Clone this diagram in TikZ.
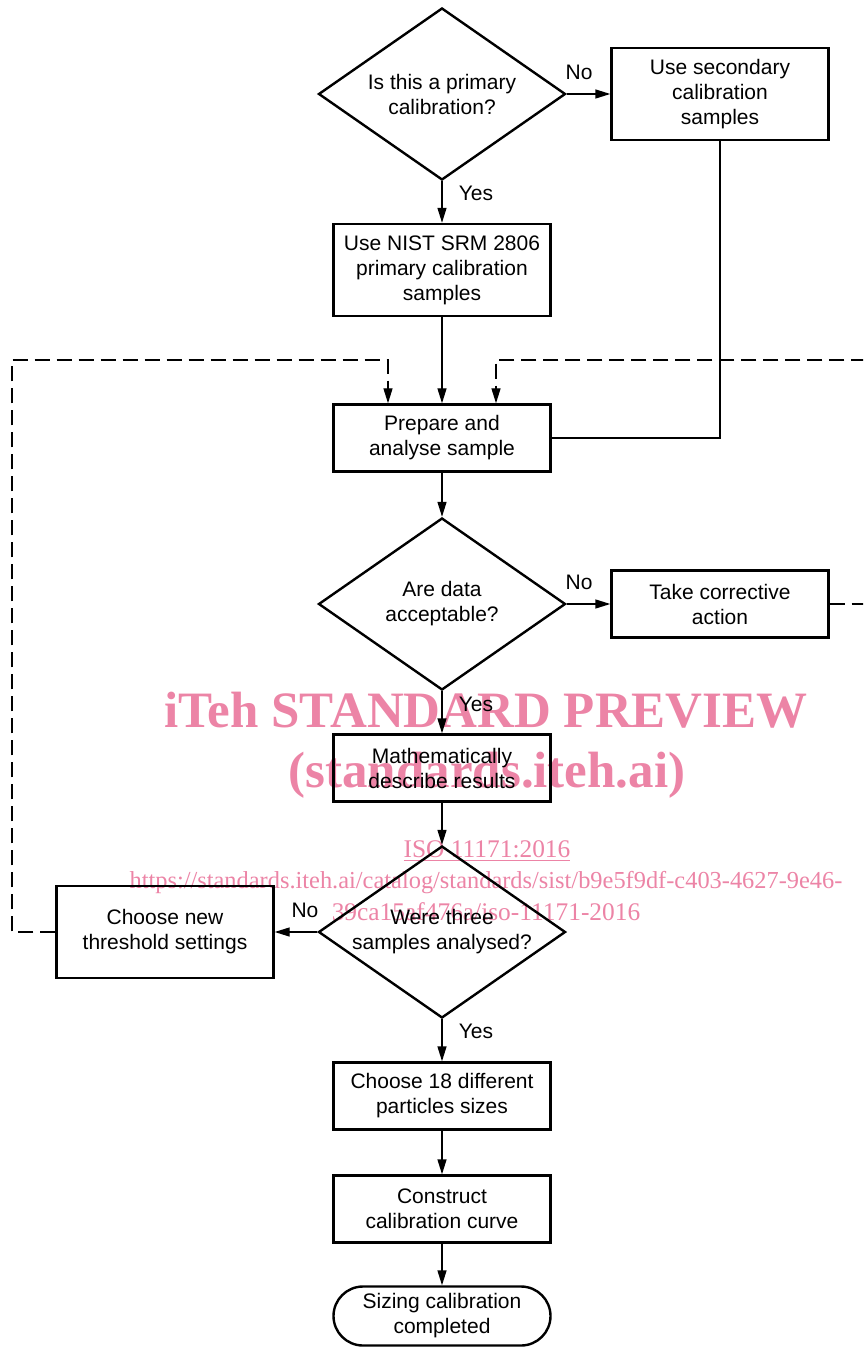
\documentclass[tikz,border=0pt]{standalone}
\usepackage{fontspec}
\setmainfont{Liberation Sans}
\newfontfamily\markfont{Liberation Serif}
\usetikzlibrary{shapes.geometric,shapes.misc,arrows.meta}
\definecolor{markpink}{RGB}{236,132,166}
\tikzset{
    flow-text/.style = {font=\fontsize{10.5}{12.5}\selectfont, align=center},
    flow-box/.style = {flow-text, draw, line width=1.2pt, rectangle, minimum width=108.5pt, inner sep=0pt},
    flow-box-tall/.style = {flow-box, minimum height=46pt},
    flow-box-low/.style = {flow-box, minimum height=33.5pt},
    flow-choice/.style = {flow-text, draw, line width=1.2pt, diamond, aspect=1.436, minimum width=123.5pt, minimum height=86pt, inner sep=0pt},
    flow-end/.style = {flow-text, draw, line width=1.2pt, rounded rectangle, minimum width=108.5pt, minimum height=29.5pt, inner sep=0pt},
    flow-line/.style = {line width=0.7pt},
    flow-arrow/.style = {flow-line, -{Triangle[length=7.5pt,width=4.5pt]}},
    flow-loop/.style = {flow-arrow, dash pattern=on 7.5pt off 3.5pt},
    flow-label/.style = {flow-text, inner sep=0pt},
    mark-big/.style = {text=markpink, anchor=base, inner sep=0pt, font=\markfont\bfseries\fontsize{25.5}{30}\selectfont},
    mark-small/.style = {text=markpink, anchor=base, inner sep=0pt, font=\markfont\fontsize{12.7}{15}\selectfont},
    mark-link/.style = {mark-small, font=\markfont\fontsize{12.2}{15}\selectfont},
}

\begin{document}
\begin{tikzpicture}[x=0.5pt, y=-0.5pt]
\useasboundingbox (0,0) rectangle (863,1347);
\clip (0,0) rectangle (863,1347);

% watermark, under the chart
\node[mark-big] (mark-1) at (486,727) {iTeh STANDARD PREVIEW};
\node[mark-big] (mark-2) at (487,787) {(standards.iteh.ai)};
\node[mark-small] (mark-3) at (487,857) {\underline{ISO 11171:2016}};
\node[mark-link] (mark-4) at (486,888) {https://standards.iteh.ai/catalog/standards/sist/b9e5f9df-c403-4627-9e46-};
\node[mark-small] (mark-5) at (486,920) {39ca15af476a/iso-11171-2016};

% chart
\node[flow-choice] (q-primary) at (442,94) {Is this a primary\\calibration?};
\node[flow-box-tall] (use-secondary) at (720,94) {Use secondary\\calibration\\samples};
\node[flow-box-tall] (use-nist) at (442,270) {Use NIST SRM 2806\\primary calibration\\samples};
\node[flow-box-low] (prepare) at (442,438) {Prepare and\\analyse sample};
\node[flow-choice] (q-data) at (442,604) {Are data\\acceptable?};
\node[flow-box-low] (corrective) at (720,604) {Take corrective\\action};
\node[flow-box-low] (describe) at (442,768) {Mathematically\\describe results};
\node[flow-choice] (q-three) at (442,932) {Were three\\samples analysed?};
\node[flow-box-tall] (new-threshold) at (165,932) {Choose new\\threshold settings};
\node[flow-box-low] (choose-sizes) at (442,1096) {Choose 18 different\\particles sizes};
\node[flow-box-low] (construct) at (442,1209) {Construct\\calibration curve};
\node[flow-end] (done) at (442,1316) {Sizing calibration\\completed};

% answers
\node[flow-label] (no-1) at (579,72) {No};
\node[flow-label] (yes-1) at (476,193) {Yes};
\node[flow-label] (no-2) at (579,582) {No};
\node[flow-label] (yes-2) at (476,704) {Yes};
\node[flow-label] (no-3) at (305,910) {No};
\node[flow-label] (yes-3) at (476,1031) {Yes};

\coordinate (loop-left) at (12,360);
\coordinate (loop-right) at (880,360);

\draw[flow-arrow] (q-primary.east) -- (use-secondary.west);
\draw[flow-arrow] (q-primary.south) -- (use-nist.north);
\draw[flow-arrow] (use-nist.south) -- (prepare.north);
\draw[flow-line] (use-secondary.south) |- (prepare.east);
\draw[flow-arrow] (prepare.south) -- (q-data.north);
\draw[flow-arrow] (q-data.east) -- (corrective.west);
\draw[flow-arrow] (q-data.south) -- (describe.north);
\draw[flow-arrow] (describe.south) -- (q-three.north);
\draw[flow-arrow] (q-three.west) -- (new-threshold.east);
\draw[flow-arrow] (q-three.south) -- (choose-sizes.north);
\draw[flow-arrow] (choose-sizes.south) -- (construct.north);
\draw[flow-arrow] (construct.south) -- (done.north);

% loops back to sample preparation
\draw[flow-loop] (new-threshold.west) -| (loop-left) -| ([xshift=-27pt]prepare.north);
\draw[flow-loop] (corrective.east) -| (loop-right) -| ([xshift=27pt]prepare.north);
\end{tikzpicture}
\end{document}
